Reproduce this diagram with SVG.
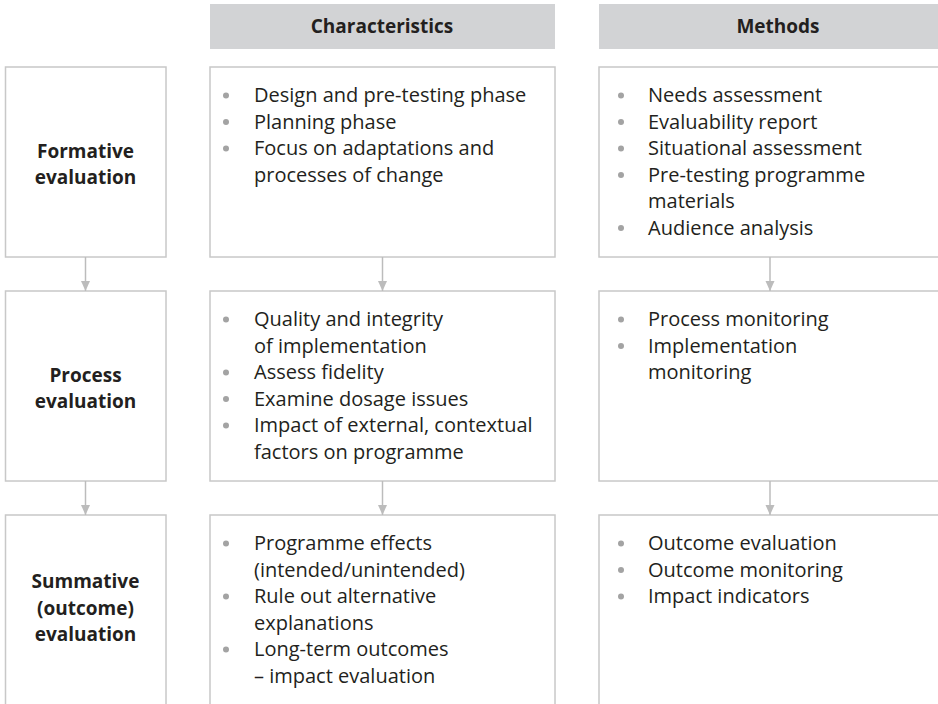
<svg xmlns="http://www.w3.org/2000/svg" width="938" height="704" viewBox="0 0 938 704">
  <style>
    .box { fill: #ffffff; stroke: #c8c8c8; stroke-width: 1.5; }
    .head { fill: #d2d3d5; }
    .hd { font-family: "Open Sans", "Liberation Sans", sans-serif; font-weight: bold; font-size: 19px; fill: #231f20; text-anchor: middle; }
    .lbl { font-family: "Open Sans", "Liberation Sans", sans-serif; font-weight: bold; font-size: 19px; fill: #231f20; text-anchor: middle; }
    .txt { font-family: "Open Sans", "Liberation Sans", sans-serif; font-size: 20px; fill: #231f20; }
    .dot { fill: #a3a3a3; }
    .conn { stroke: #bcbcbc; stroke-width: 1.5; fill: none; }
  </style>
  <defs>
    <marker id="arrow" viewBox="0 0 10 10" refX="10" refY="5" markerWidth="10" markerHeight="10" markerUnits="userSpaceOnUse" orient="auto">
      <path d="M0,0.5 L10,5 L0,9.5 Z" fill="#bcbcbc"/>
    </marker>
  </defs>

  <rect width="938" height="704" fill="#ffffff"/>

  <!-- column headers -->
  <g id="header-characteristics">
    <rect class="head" x="210" y="4" width="345" height="45"/>
    <text class="hd" x="382" y="32.5">Characteristics</text>
  </g>
  <g id="header-methods">
    <rect class="head" x="599" y="4" width="358" height="45"/>
    <text class="hd" x="778" y="32.5">Methods</text>
  </g>

  <!-- row 1: formative -->
  <g id="formative">
    <rect class="box" x="5.5" y="67" width="160.5" height="190"/>
    <text class="lbl" x="85.5" y="158">Formative</text>
    <text class="lbl" x="85.5" y="184">evaluation</text>
  </g>
  <g id="formative-characteristics">
    <rect class="box" x="210" y="67" width="345" height="190"/>
    <circle class="dot" cx="226" cy="95.5" r="3"/>
    <circle class="dot" cx="226" cy="122" r="3"/>
    <circle class="dot" cx="226" cy="148.5" r="3"/>
    <text class="txt" x="254" y="102">Design and pre-testing phase</text>
    <text class="txt" x="254" y="128.5">Planning phase</text>
    <text class="txt" x="254" y="155">Focus on adaptations and</text>
    <text class="txt" x="254" y="181.5">processes of change</text>
  </g>
  <g id="formative-methods">
    <rect class="box" x="599" y="67" width="342" height="190"/>
    <circle class="dot" cx="621" cy="95.5" r="3"/>
    <circle class="dot" cx="621" cy="122" r="3"/>
    <circle class="dot" cx="621" cy="148.5" r="3"/>
    <circle class="dot" cx="621" cy="175" r="3"/>
    <circle class="dot" cx="621" cy="228" r="3"/>
    <text class="txt" x="648" y="102">Needs assessment</text>
    <text class="txt" x="648" y="128.5">Evaluability report</text>
    <text class="txt" x="648" y="155">Situational assessment</text>
    <text class="txt" x="648" y="181.5">Pre-testing programme</text>
    <text class="txt" x="648" y="208">materials</text>
    <text class="txt" x="648" y="234.5">Audience analysis</text>
  </g>

  <!-- row 2: process -->
  <g id="process">
    <rect class="box" x="5.5" y="291" width="160.5" height="190"/>
    <text class="lbl" x="85.5" y="382">Process</text>
    <text class="lbl" x="85.5" y="408">evaluation</text>
  </g>
  <g id="process-characteristics">
    <rect class="box" x="210" y="291" width="345" height="190"/>
    <circle class="dot" cx="226" cy="319.5" r="3"/>
    <circle class="dot" cx="226" cy="372.5" r="3"/>
    <circle class="dot" cx="226" cy="399" r="3"/>
    <circle class="dot" cx="226" cy="425.5" r="3"/>
    <text class="txt" x="254" y="326">Quality and integrity</text>
    <text class="txt" x="254" y="352.5">of implementation</text>
    <text class="txt" x="254" y="379">Assess fidelity</text>
    <text class="txt" x="254" y="405.5">Examine dosage issues</text>
    <text class="txt" x="254" y="432">Impact of external, contextual</text>
    <text class="txt" x="254" y="458.5">factors on programme</text>
  </g>
  <g id="process-methods">
    <rect class="box" x="599" y="291" width="342" height="190"/>
    <circle class="dot" cx="621" cy="319.5" r="3"/>
    <circle class="dot" cx="621" cy="346" r="3"/>
    <text class="txt" x="648" y="326">Process monitoring</text>
    <text class="txt" x="648" y="352.5">Implementation</text>
    <text class="txt" x="648" y="379">monitoring</text>
  </g>

  <!-- row 3: summative -->
  <g id="summative">
    <rect class="box" x="5.5" y="515" width="160.5" height="220"/>
    <text class="lbl" x="85.5" y="588">Summative</text>
    <text class="lbl" x="85.5" y="614.5">(outcome)</text>
    <text class="lbl" x="85.5" y="641">evaluation</text>
  </g>
  <g id="summative-characteristics">
    <rect class="box" x="210" y="515" width="345" height="220"/>
    <circle class="dot" cx="226" cy="543.5" r="3"/>
    <circle class="dot" cx="226" cy="596.5" r="3"/>
    <circle class="dot" cx="226" cy="649.5" r="3"/>
    <text class="txt" x="254" y="550">Programme effects</text>
    <text class="txt" x="254" y="576.5">(intended/unintended)</text>
    <text class="txt" x="254" y="603">Rule out alternative</text>
    <text class="txt" x="254" y="629.5">explanations</text>
    <text class="txt" x="254" y="656">Long-term outcomes</text>
    <text class="txt" x="254" y="682.5">– impact evaluation</text>
  </g>
  <g id="summative-methods">
    <rect class="box" x="599" y="515" width="342" height="220"/>
    <circle class="dot" cx="621" cy="543.5" r="3"/>
    <circle class="dot" cx="621" cy="570" r="3"/>
    <circle class="dot" cx="621" cy="596.5" r="3"/>
    <text class="txt" x="648" y="550">Outcome evaluation</text>
    <text class="txt" x="648" y="576.5">Outcome monitoring</text>
    <text class="txt" x="648" y="603">Impact indicators</text>
  </g>

  <!-- connectors -->
  <g id="connectors">
    <line class="conn" x1="85.5" y1="257" x2="85.5" y2="291" marker-end="url(#arrow)"/>
    <line class="conn" x1="382.5" y1="257" x2="382.5" y2="291" marker-end="url(#arrow)"/>
    <line class="conn" x1="770" y1="257" x2="770" y2="291" marker-end="url(#arrow)"/>
    <line class="conn" x1="85.5" y1="481" x2="85.5" y2="515" marker-end="url(#arrow)"/>
    <line class="conn" x1="382.5" y1="481" x2="382.5" y2="515" marker-end="url(#arrow)"/>
    <line class="conn" x1="770" y1="481" x2="770" y2="515" marker-end="url(#arrow)"/>
  </g>
</svg>
